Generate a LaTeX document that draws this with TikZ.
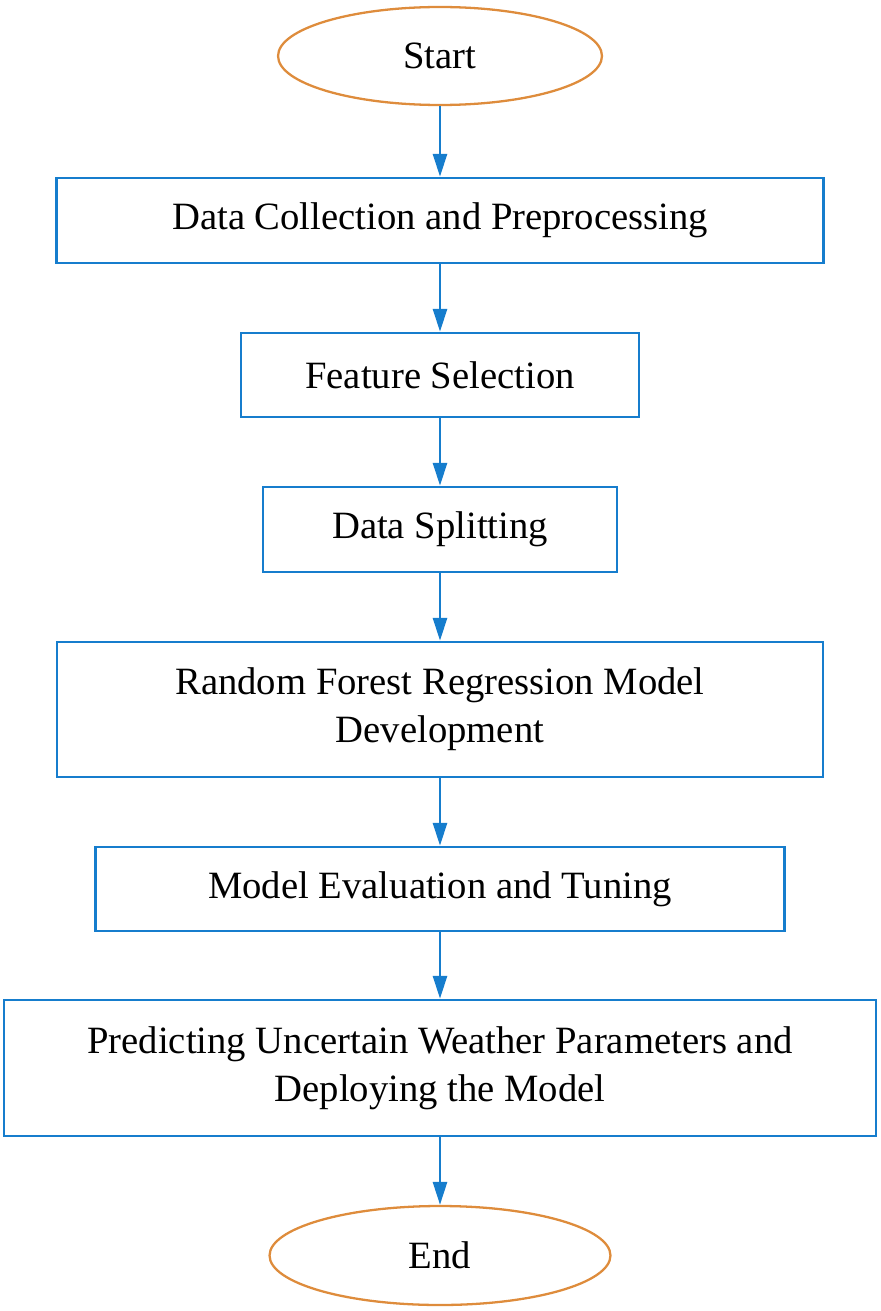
\documentclass[tikz,border=0pt]{standalone}
\usepackage{fontspec}
\setmainfont{Liberation Serif}
\definecolor{bl}{RGB}{22,125,205}
\definecolor{og}{RGB}{222,140,60}
\usepackage{tikz}
\usetikzlibrary{arrows.meta}
\usetikzlibrary{shapes.geometric}
\tikzstyle{stepbox}=[rectangle, draw=bl, line width=1.4pt, align=center, inner sep=0pt]
\tikzstyle{terminal}=[ellipse, draw=og, line width=1.3pt, inner sep=0pt]
\tikzstyle{flow}=[draw=bl, line width=1.6pt, -{Triangle[length=4.6mm,width=2.8mm]}]

\begin{document}
\begin{tikzpicture}[
    every node/.style={font=\fontsize{22}{27.5}\selectfont},
    x=0.02cm, y=-0.02cm]

      \useasboundingbox (0,0) rectangle (880,1311);

      \node[terminal, minimum width=6.48cm, minimum height=1.96cm] (start) at (440,56) {Start};

      \node[stepbox, minimum width=15.34cm, minimum height=1.7cm] (dcp) at (440,220.5) {Data Collection and Preprocessing};
      \node[stepbox, minimum width=7.96cm, minimum height=1.68cm] (fs) at (440,375) {Feature Selection};
      \node[stepbox, minimum width=7.08cm, minimum height=1.7cm] (ds) at (440,529.5) {Data Splitting};
      \node[stepbox, minimum width=15.32cm, minimum height=2.7cm] (rfr) at (440,709.5) {Random Forest Regression Model\\Development};
      \node[stepbox, minimum width=13.78cm, minimum height=1.68cm] (met) at (440,889) {Model Evaluation and Tuning};
      \node[stepbox, minimum width=17.44cm, minimum height=2.72cm] (pdm) at (440,1068) {Predicting Uncertain Weather Parameters and\\Deploying the Model};

      \node[terminal, minimum width=6.82cm, minimum height=1.98cm] (end) at (440,1255.5) {End};

      % arrows
      \draw[flow] (start) -- (dcp);
      \draw[flow] (dcp) -- (fs);
      \draw[flow] (fs) -- (ds);
      \draw[flow] (ds) -- (rfr);
      \draw[flow] (rfr) -- (met);
      \draw[flow] (met) -- (pdm);
      \draw[flow] (pdm) -- (end);

    \end{tikzpicture}
\end{document}
